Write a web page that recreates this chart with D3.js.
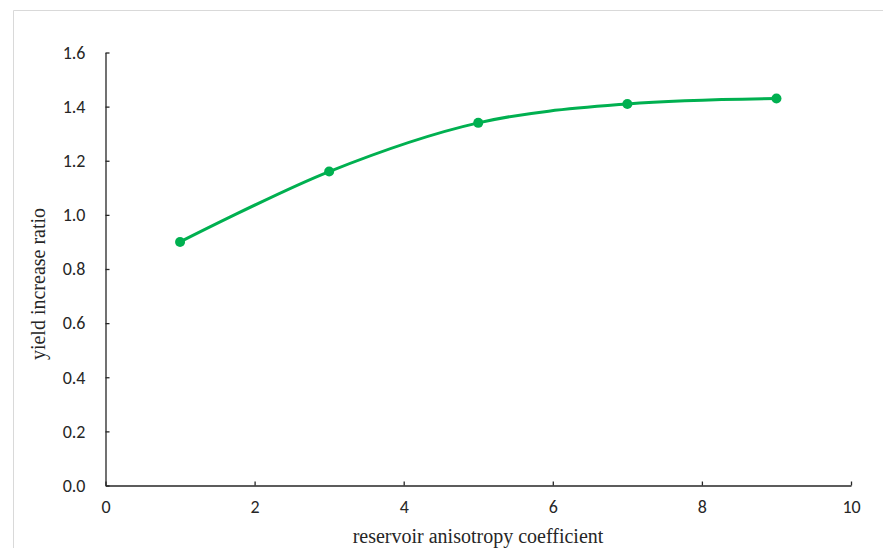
<!DOCTYPE html>
<html><head><meta charset="utf-8">
<script src="https://cdn.jsdelivr.net/npm/d3@7"></script>
<style>body{margin:0;background:#fff}svg{display:block}</style>
</head><body>
<svg id="c" width="883" height="548"></svg>
<script>
const xValues = [1, 3, 5, 7, 9];
const yValues = [0.90, 1.16, 1.34, 1.41, 1.43];
const xTicks = [0, 2, 4, 6, 8, 10];
const yTicks = [0, 0.2, 0.4, 0.6, 0.8, 1.0, 1.2, 1.4, 1.6];
const xTitle = "reservoir anisotropy coefficient";
const yTitle = "yield increase ratio";

const svg = d3.select("#c");
const x = d3.scaleLinear().domain([0, 10]).range([105.5, 851]);
const y = d3.scaleLinear().domain([0, 1.6]).range([485.5, 52.5]);

// outer border (top and left visible)
svg.append("path").attr("d", "M13.5,548 L13.5,10.5 L883,10.5")
  .attr("fill", "none").attr("stroke", "#d9d9d9").attr("stroke-width", 1);

const tickFont = "Carlito, 'Open Sans', 'Liberation Sans', sans-serif";

const xAxis = svg.append("g").attr("transform", `translate(0,${y(0)})`)
  .call(d3.axisBottom(x).tickValues(xTicks).tickSizeInner(-4).tickSizeOuter(0).tickPadding(15).tickFormat(d3.format("d")));
const yAxis = svg.append("g").attr("transform", `translate(${x(0)},0)`)
  .call(d3.axisLeft(y).tickValues(yTicks).tickSizeInner(-4).tickSizeOuter(0).tickPadding(20).tickFormat(d3.format(".1f")));
[xAxis, yAxis].forEach(a => {
  a.attr("font-family", tickFont).attr("font-size", 18);
  a.select(".domain").attr("stroke", "#262626").attr("stroke-width", 1.3);
  a.selectAll(".tick line").attr("stroke", "#262626").attr("stroke-width", 1.3);
  a.selectAll("text").attr("fill", "#262626");
});

const line = d3.line().x(d => x(d[0])).y(d => y(d[1])).curve(d3.curveCardinal.tension(0));
const pts = xValues.map((v, i) => [v, yValues[i]]);
svg.append("path").datum(pts).attr("d", line)
  .attr("fill", "none").attr("stroke", "#00b050").attr("stroke-width", 3).attr("stroke-linecap", "round");
svg.selectAll("circle.p").data(pts).enter().append("circle")
  .attr("cx", d => x(d[0])).attr("cy", d => y(d[1])).attr("r", 5).attr("fill", "#00b050");

svg.append("text").attr("x", 478).attr("y", 543).attr("text-anchor", "middle")
  .attr("font-family", "'Liberation Serif', 'Times New Roman', serif").attr("font-size", 20).attr("fill", "#262626")
  .text(xTitle);
svg.append("text").attr("transform", "translate(45,284) rotate(-90)").attr("text-anchor", "middle")
  .attr("font-family", "'Liberation Serif', 'Times New Roman', serif").attr("font-size", 20).attr("fill", "#262626")
  .text(yTitle);
</script>
</body></html>
